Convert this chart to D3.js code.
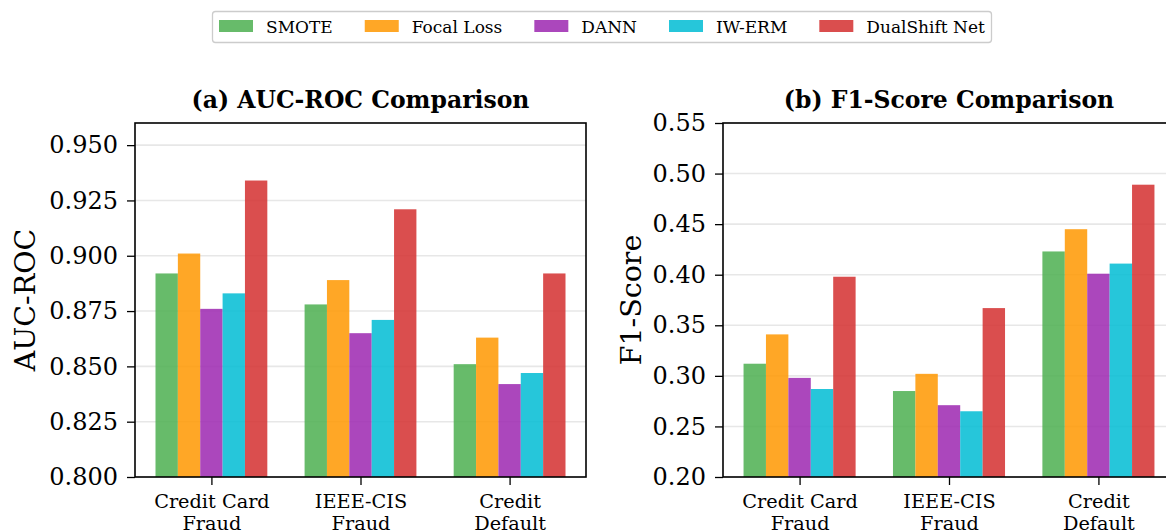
<!DOCTYPE html>
<html>
<head>
<meta charset="utf-8">
<script src="https://cdn.jsdelivr.net/npm/d3@7"></script>
<style>
  html, body { margin: 0; padding: 0; background: #fff; }
  svg { display: block; font-family: "DejaVu Serif", serif; }
</style>
</head>
<body>
<svg id="chart" width="1166" height="532"></svg>
<script>
// Datasets (x categories), two lines each
const categories = [["Credit Card", "Fraud"], ["IEEE-CIS", "Fraud"], ["Credit", "Default"]];
const methods = ["SMOTE", "Focal Loss", "DANN", "IW-ERM", "DualShift Net"];
const methodColors = ["#4CAF50", "#FF9800", "#9C27B0", "#00BCD4", "#D32F2F"];

// AUC-ROC per method, ordered by dataset
const aucSMOTE = [0.892, 0.878, 0.851];
const aucFocal = [0.901, 0.889, 0.863];
const aucDANN = [0.876, 0.865, 0.842];
const aucIWERM = [0.883, 0.871, 0.847];
const aucDualShift = [0.934, 0.921, 0.892];

// F1-score per method, ordered by dataset
const f1SMOTE = [0.312, 0.285, 0.423];
const f1Focal = [0.341, 0.302, 0.445];
const f1DANN = [0.298, 0.271, 0.401];
const f1IWERM = [0.287, 0.265, 0.411];
const f1DualShift = [0.398, 0.367, 0.489];

const aucTicks = [0.800, 0.825, 0.850, 0.875, 0.900, 0.925, 0.950];
const f1Ticks = [0.20, 0.25, 0.30, 0.35, 0.40, 0.45, 0.50, 0.55];

const panels = [
  {
    title: "(a) AUC-ROC Comparison", ylabel: "AUC-ROC",
    series: [aucSMOTE, aucFocal, aucDANN, aucIWERM, aucDualShift],
    yDomain: [0.80, 0.96], ticks: aucTicks, fmt: d3.format(".3f"),
    left: 135, right: 586, top: 123, bottom: 477, ylabelX: 35
  },
  {
    title: "(b) F1-Score Comparison", ylabel: "F1-Score",
    series: [f1SMOTE, f1Focal, f1DANN, f1IWERM, f1DualShift],
    yDomain: [0.20, 0.55], ticks: f1Ticks, fmt: d3.format(".2f"),
    left: 723, right: 1175, top: 123, bottom: 477, ylabelX: 641
  }
];

const barW = 0.15;
const svg = d3.select("#chart");

panels.forEach(p => {
  const x = d3.scaleLinear().domain([-0.5125, 2.5125]).range([p.left, p.right]);
  const y = d3.scaleLinear().domain(p.yDomain).range([p.bottom, p.top]);
  const g = svg.append("g");

  // horizontal grid
  g.append("g").selectAll("line").data(p.ticks).join("line")
    .attr("x1", p.left).attr("x2", p.right)
    .attr("y1", d => y(d)).attr("y2", d => y(d))
    .attr("stroke", "#b0b0b0").attr("stroke-opacity", 0.3).attr("stroke-width", 1.6);

  // bars
  p.series.forEach((vals, mi) => {
    g.append("g").selectAll("rect").data(vals).join("rect")
      .attr("x", (d, ci) => x(ci + (mi - 2) * barW - barW / 2))
      .attr("width", x(barW) - x(0))
      .attr("y", d => y(d))
      .attr("height", d => y(p.yDomain[0]) - y(d))
      .attr("fill", methodColors[mi]).attr("fill-opacity", 0.85);
  });

  // y axis
  const yAxis = g.append("g").attr("transform", `translate(${p.left},0)`)
    .call(d3.axisLeft(y).tickValues(p.ticks).tickFormat(p.fmt).tickSize(8).tickPadding(9));
  yAxis.select(".domain").remove();
  yAxis.selectAll("line").attr("stroke", "#000").attr("stroke-width", 1.3);
  yAxis.selectAll("text").attr("font-family", "DejaVu Serif").attr("font-size", 24).attr("fill", "#000");

  // x axis
  const xAxis = g.append("g").attr("transform", `translate(0,${p.bottom})`)
    .call(d3.axisBottom(x).tickValues([0, 1, 2]).tickFormat("").tickSize(8));
  xAxis.select(".domain").remove();
  xAxis.selectAll("line").attr("stroke", "#000").attr("stroke-width", 1.3);
  xAxis.selectAll(".tick").each(function(d) {
    const t = d3.select(this).append("text")
      .attr("font-family", "DejaVu Serif").attr("font-size", 19.3)
      .attr("fill", "#000").attr("text-anchor", "middle");
    categories[d].forEach((line, li) => {
      t.append("tspan").attr("x", 0).attr("y", 31 + li * 21.5).text(line);
    });
  });

  // frame
  g.append("rect")
    .attr("x", p.left).attr("y", p.top)
    .attr("width", p.right - p.left).attr("height", p.bottom - p.top)
    .attr("fill", "none").attr("stroke", "#000").attr("stroke-width", 1.6);

  // title
  g.append("text").attr("x", (p.left + p.right) / 2).attr("y", 108)
    .attr("text-anchor", "middle").attr("font-weight", "bold")
    .attr("font-size", 23.5).attr("font-family", "DejaVu Serif").text(p.title);

  // y label
  g.append("text")
    .attr("transform", `translate(${p.ylabelX},${(p.top + p.bottom) / 2}) rotate(-90)`)
    .attr("text-anchor", "middle").attr("font-size", 28.5).attr("font-family", "DejaVu Serif")
    .text(p.ylabel);
});

// legend
const legend = svg.append("g");
legend.append("rect").attr("x", 212.5).attr("y", 11.5).attr("width", 779).attr("height", 31)
  .attr("rx", 3).attr("fill", "#fff").attr("stroke", "#ccc").attr("stroke-width", 1.3);
let lx = 219;
methods.forEach((m, i) => {
  legend.append("rect").attr("x", lx).attr("y", 20).attr("width", 34).attr("height", 12)
    .attr("fill", methodColors[i]).attr("fill-opacity", 0.85);
  const t = legend.append("text").attr("x", lx + 34 + 13).attr("y", 32.5)
    .attr("font-size", 17).attr("font-family", "DejaVu Serif").text(m);
  lx = lx + 34 + 13 + t.node().getComputedTextLength() + 32;
});
</script>
</body>
</html>
